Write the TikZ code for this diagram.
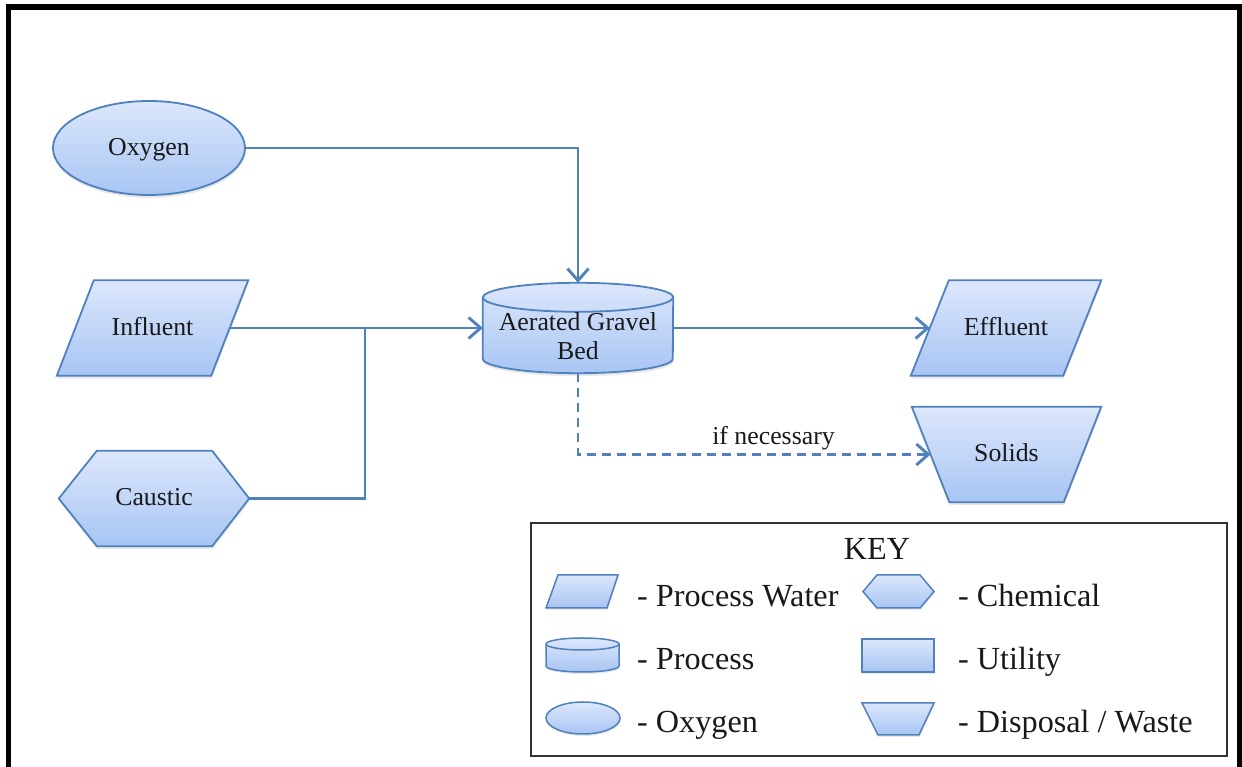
\documentclass[tikz,border=0pt]{standalone}
\usepackage{fontspec}
\setmainfont{Liberation Serif}
\usetikzlibrary{shapes.geometric,arrows.meta,shadows}
\pgfdeclarelayer{background}
\pgfsetlayers{background,main}
\definecolor{lineblue}{HTML}{4F81BD}
\definecolor{shapetop}{HTML}{DCE7FB}
\definecolor{shapebot}{HTML}{A8C5F4}
\tikzset{
  shapefill/.style={draw=lineblue, line width=1.8pt, top color=shapetop, bottom color=shapebot},
  softshadow/.style={drop shadow={shadow xshift=0.5pt, shadow yshift=-3pt, opacity=0.18}},
  nodetext/.style={font=\fontsize{25.8}{29}\selectfont, text=black!90, inner sep=0pt, align=center},
  boxtext/.style={nodetext, text height=19pt, text depth=4pt},
  gas/.style={shapefill, softshadow, boxtext, ellipse, minimum width=192pt, minimum height=94pt},
  holder/.style={boxtext, rectangle},
  pipe/.style={draw=lineblue, line width=2.9pt},
  flow/.style={pipe, -{Straight Barb[length=12pt,width=21pt]}},
  keytext/.style={font=\fontsize{32.2}{38}\selectfont, text=black!90, inner sep=0pt, anchor=base west},
  icon/.style={shapefill, line width=1.5pt, drop shadow={shadow xshift=0.5pt, shadow yshift=-2pt, opacity=0.18}},
}
\begin{document}
\begin{tikzpicture}[x=1pt, y=1pt]
\useasboundingbox (0,0) rectangle (1242,767);
\clip (0,0) rectangle (1242,767);

% outer frame
\draw[line width=5.5pt, line join=miter] (8.5,-20) -- (8.5,760) -- (1239.8,760) -- (1239.8,-20);

% process units (outlines are drawn on the background layer below)
\node[gas] (oxygen) at (149,619) {Oxygen};
\node[holder, minimum width=191pt, minimum height=95pt] (influent) at (152.5,439) {Influent};
\node[holder, minimum width=190pt, minimum height=95pt] (caustic) at (154,268.5) {Caustic};
\node[holder, minimum width=190pt, minimum height=90pt] (gravel) at (578,439) {};
\node[nodetext] (gravellabel) at (578,431) {Aerated Gravel\\Bed};
\node[holder, minimum width=190pt, minimum height=95pt] (effluent) at (1006,439) {Effluent};
\node[holder, minimum width=189pt, minimum height=95pt] (solids) at (1006.5,312.5) {Solids};
\coordinate (merge) at (365,439);

\begin{pgfonlayer}{background}
  % parallelograms: process water
  \path[shapefill, softshadow] (influent.south west) -- ([xshift=-37pt]influent.south east)
    -- (influent.north east) -- ([xshift=37pt]influent.north west) -- cycle;
  \path[shapefill, softshadow] (effluent.south west) -- ([xshift=-38pt]effluent.south east)
    -- (effluent.north east) -- ([xshift=38pt]effluent.north west) -- cycle;
  % inverted trapezium: disposal
  \path[shapefill, softshadow] (solids.north west) -- (solids.north east)
    -- ([xshift=-37.5pt]solids.south east) -- ([xshift=37.5pt]solids.south west) -- cycle;
  % hexagon: chemical
  \path[shapefill, softshadow] (caustic.west) -- ([xshift=38pt]caustic.north west)
    -- ([xshift=-37pt]caustic.north east) -- (caustic.east)
    -- ([xshift=-37pt]caustic.south east) -- ([xshift=38pt]caustic.south west) -- cycle;
  % cylinder: process
  \path[shapefill, softshadow] ([yshift=-14.5pt]gravel.north west) -- ([yshift=14.5pt]gravel.south west)
    arc[start angle=180, end angle=360, x radius=95pt, y radius=14.5pt]
    -- ([yshift=-14.5pt]gravel.north east)
    arc[start angle=0, end angle=180, x radius=95pt, y radius=14.5pt] -- cycle;
  \draw[draw=lineblue, line width=1.8pt] ([yshift=-14.5pt]gravel.north west)
    arc[start angle=180, end angle=360, x radius=95pt, y radius=14.5pt];
\end{pgfonlayer}

% connectors
\draw[flow] (oxygen.east) -| (gravel.north);
\draw[flow] ([xshift=-18.5pt]influent.east) -- (gravel.west);
\draw[pipe] (caustic.east) -| (merge);
\draw[flow] (gravel.east) -- ([xshift=19pt]effluent.west);
\draw[flow, dash pattern=on 9pt off 6pt] (gravel.south) |- ([xshift=18.75pt]solids.west);
\node[nodetext, anchor=base] (ifnec) at (773.5,322) {if necessary};

% key
\node[draw=black!80, line width=1.3pt, minimum width=696pt, minimum height=233pt, inner sep=0pt] (keybox) at (879,127.5) {};
\node[font=\fontsize{32.2}{38}\selectfont, text=black!90, inner sep=0pt, anchor=base] (keytitle) at (877,207) {KEY};

\path[icon] (546,159) -- (607,159) -- (618,192) -- (558,192) -- cycle;
\path[icon] (863,175.5) -- (877,192) -- (920,192) -- (934,175.5) -- (920,159) -- (877,159) -- cycle;
\path[icon] (546,123) -- (546,101) arc[start angle=180, end angle=360, x radius=36.5pt, y radius=6pt]
  -- (619,123) arc[start angle=0, end angle=180, x radius=36.5pt, y radius=6pt] -- cycle;
\draw[draw=lineblue, line width=1.5pt] (546,123) arc[start angle=180, end angle=360, x radius=36.5pt, y radius=6pt];
\path[icon] (862,95) rectangle (934,128);
\path[icon] (583,49) ellipse[x radius=37pt, y radius=16pt];
\path[icon] (862,64) -- (934,64) -- (919,32) -- (878,32) -- cycle;

\node[keytext] (kwater) at (637,160) {- Process Water};
\node[keytext] (kproc) at (637,97) {- Process};
\node[keytext] (koxy) at (637,34) {- Oxygen};
\node[keytext] (kchem) at (958,160) {- Chemical};
\node[keytext] (kutil) at (958,97) {- Utility};
\node[keytext] (kwaste) at (958,34) {- Disposal / Waste};
\end{tikzpicture}
\end{document}
